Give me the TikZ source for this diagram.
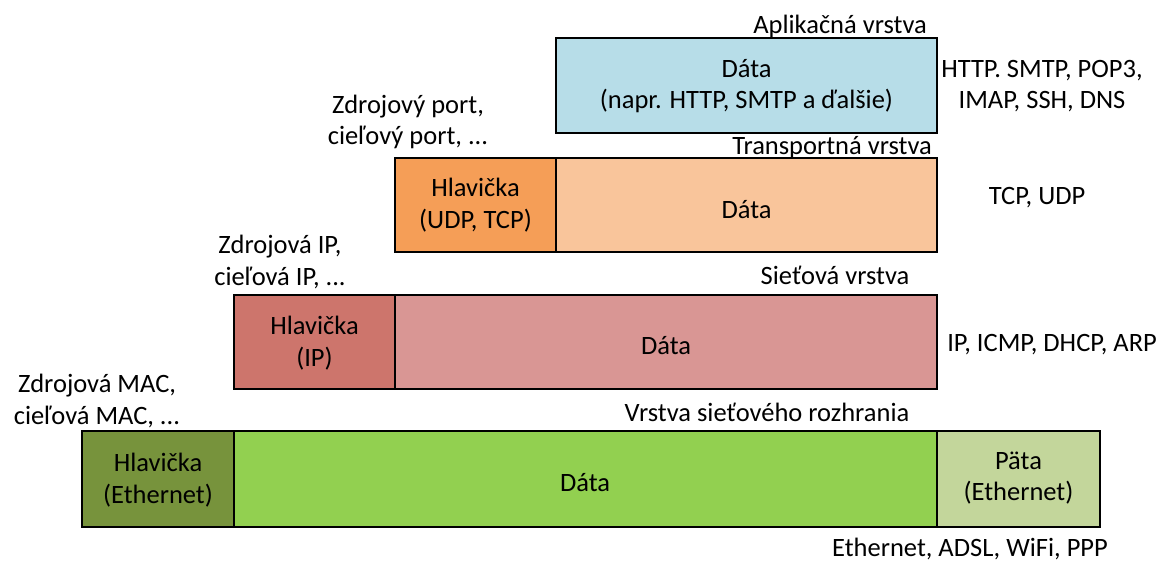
\documentclass[tikz,border=0pt]{standalone}
\usepackage{fontspec}
\setmainfont{Carlito}
\begin{document}
\begin{tikzpicture}[x=1pt,y=-1pt,
  box/.style={draw=black,line width=1.2pt,minimum height=0pt,inner sep=0pt},
  txt/.style={font=\fontsize{26.5}{31.5}\selectfont,align=center,inner sep=0pt},
  lbl/.style={font=\fontsize{26.5}{31.5}\selectfont,inner sep=0pt}]
\definecolor{appc}{HTML}{B7DDE8}
\definecolor{trh}{HTML}{F59E57}
\definecolor{trd}{HTML}{F9C59B}
\definecolor{neth}{HTML}{CD756C}
\definecolor{netd}{HTML}{D99694}
\definecolor{lkh}{HTML}{77933C}
\definecolor{lkd}{HTML}{92D050}
\definecolor{lkt}{HTML}{C3D69B}
\useasboundingbox (0,0) rectangle (1167,563);
% application
\path[box,fill=appc] (556,38) rectangle (937,133);
\node[txt] (appd) at (746.5,86) {Dáta\\(napr. HTTP, SMTP a ďalšie)};
\node[lbl,anchor=base east] (appl) at (927,33) {Aplikačná vrstva};
\node[txt] (appp) at (1042,86) {HTTP. SMTP, POP3,\\IMAP, SSH, DNS};
% transport
\path[box,fill=trh] (395,158) rectangle (556,252);
\path[box,fill=trd] (556,158) rectangle (937,252);
\node[txt] (trhd) at (475.5,205) {Hlavička\\(UDP, TCP)};
\node[txt] (trdd) at (746.5,210) {Dáta};
\node[lbl,anchor=base east] (trl) at (932,154) {Transportná vrstva};
\node[txt] (trp) at (1037,198) {TCP, UDP};
\node[txt] (trn) at (408,122) {Zdrojový port,\\cieľový port, ...};
% network
\path[box,fill=neth] (234,295) rectangle (395,389);
\path[box,fill=netd] (395,295) rectangle (937,389);
\node[txt] (nethd) at (314.5,343) {Hlavička\\(IP)};
\node[txt] (netdd) at (666,346) {Dáta};
\node[lbl] (netl) at (835,275) {Sieťová vrstva};
\node[txt] (netp) at (1052,345) {IP, ICMP, DHCP, ARP};
\node[txt] (netn) at (280,262) {Zdrojová IP,\\cieľová IP, ...};
% link
\path[box,fill=lkh] (82,431) rectangle (234,527);
\path[box,fill=lkd] (234,431) rectangle (937,527);
\path[box,fill=lkt] (937,431) rectangle (1100,527);
\node[txt] (lkhd) at (158,480) {Hlavička\\(Ethernet)};
\node[txt] (lkdd) at (585,483) {Dáta};
\node[txt] (lktd) at (1018.5,478) {Päta\\(Ethernet)};
\node[lbl] (lkl) at (767,412) {Vrstva sieťového rozhrania};
\node[txt] (lkn) at (97,401) {Zdrojová MAC,\\cieľová MAC, ...};
\node[txt] (lkp) at (970,549) {Ethernet, ADSL, WiFi, PPP};
\end{tikzpicture}
\end{document}
